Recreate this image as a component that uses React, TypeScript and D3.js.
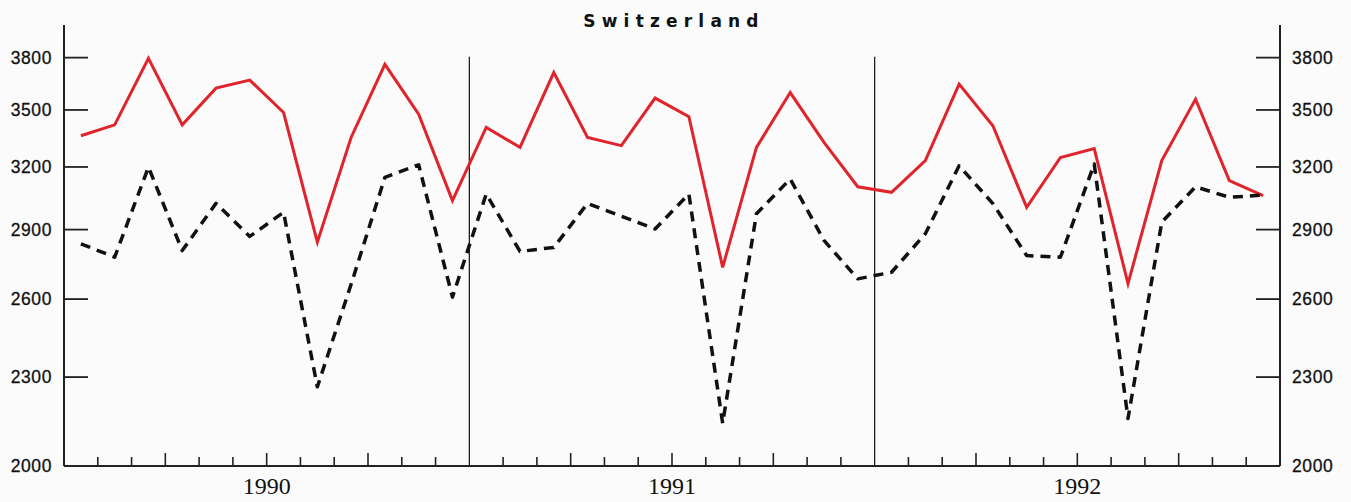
import React from "react";
import * as d3 from "d3";

const title = "Switzerland";
const years = ["1990", "1991", "1992"];
const yTicks = [2000, 2300, 2600, 2900, 3200, 3500, 3800];

// Monthly values, Jan 1990 .. Dec 1992
const redSeries = [
  3361, 3419, 3796, 3419, 3622, 3668, 3486, 2843, 3352, 3760, 3477, 3035,
  3405, 3300, 3712, 3352, 3309, 3566, 3463, 2733, 3300, 3597, 3326, 3102,
  3075, 3232, 3645, 3414, 3003, 3248, 3294, 2664, 3232, 3560, 3132, 3059,
];
const blackSeries = [
  2836, 2777, 3199, 2806, 3022, 2869, 2980, 2265, 2661, 3148, 3211, 2608,
  3067, 2802, 2820, 3022, 2962, 2903, 3067, 2139, 2973, 3140, 2851, 2684,
  2712, 2881, 3206, 3021, 2784, 2777, 3215, 2155, 2934, 3102, 3051, 3062,
];

const W = 1351;
const H = 502;
const left = 64;
const right = 1280;
const top = 25;
const bottom = 466;

export default function App() {
  const nMonths = redSeries.length;
  const x = d3.scaleLinear().domain([0, nMonths]).range([left, right]);
  const y = d3.scaleLog().domain([2000, 4000]).range([bottom, top]);

  const line = d3
    .line<number>()
    .x((_, i) => x(i + 0.5))
    .y((d) => y(d));

  const monthTicks = d3.range(1, nMonths).filter((k) => k % 12 !== 0);
  const yearLines = d3.range(1, years.length).map((k) => k * 12);

  const labelStyle = {
    fontFamily: "'Liberation Sans', Arial, sans-serif",
    fontSize: 17.5,
    letterSpacing: 0.6,
    fill: "#111",
    stroke: "#111",
    strokeWidth: 0.3,
  } as const;

  return (
    <div style={{ position: "fixed", left: 0, top: 0 }}>
      <svg width={W} height={H} style={{ display: "block", background: "#fbfbfb" }}>
        <text
          x={(left + right) / 2 + 2}
          y={27}
          textAnchor="middle"
          fontFamily="'DejaVu Sans', sans-serif"
          fontWeight="bold"
          fontSize={17}
          letterSpacing={6.2}
          fill="#111"
        >
          {title}
        </text>

        {/* year separators */}
        {yearLines.map((k) => (
          <line key={k} x1={x(k)} x2={x(k)} y1={y(3800) - 1} y2={bottom} stroke="#111" strokeWidth={1.2} />
        ))}

        {/* axes */}
        <line x1={left} x2={left} y1={top} y2={bottom} stroke="#222" strokeWidth={2} />
        <line x1={right} x2={right} y1={top} y2={bottom} stroke="#222" strokeWidth={2} />
        <line x1={left} x2={right} y1={bottom} y2={bottom} stroke="#222" strokeWidth={2} />

        {/* y ticks and labels */}
        {yTicks.map((t) => (
          <g key={t}>
            {t !== 2000 && (
              <>
                <line x1={left} x2={left + 24} y1={y(t)} y2={y(t)} stroke="#222" strokeWidth={1.8} />
                <line x1={right - 24} x2={right} y1={y(t)} y2={y(t)} stroke="#222" strokeWidth={1.8} />
              </>
            )}
            <text x={52} y={y(t)} dy="0.36em" textAnchor="end" {...labelStyle}>
              {t}
            </text>
            <text x={1292} y={y(t)} dy="0.36em" textAnchor="start" {...labelStyle}>
              {t}
            </text>
          </g>
        ))}

        {/* month ticks */}
        {monthTicks.map((k) => (
          <line
            key={k}
            x1={x(k)}
            x2={x(k)}
            y1={bottom}
            y2={bottom - (k % 3 === 0 ? 13 : 9)}
            stroke="#222"
            strokeWidth={1.6}
          />
        ))}

        {/* year labels */}
        {years.map((yr, i) => (
          <text
            key={yr}
            x={x(i * 12 + 6)}
            y={494}
            textAnchor="middle"
            fontFamily="'Liberation Serif', 'DejaVu Serif', serif"
            fontSize={24}
            fill="#111"
          >
            {yr}
          </text>
        ))}

        {/* series */}
        <path d={line(redSeries) || ""} fill="none" stroke="#e0242c" strokeWidth={3} strokeLinejoin="miter" />
        <path
          d={line(blackSeries) || ""}
          fill="none"
          stroke="#111"
          strokeWidth={3.5}
          strokeDasharray="10 7"
          strokeLinejoin="round"
        />
      </svg>
    </div>
  );
}
